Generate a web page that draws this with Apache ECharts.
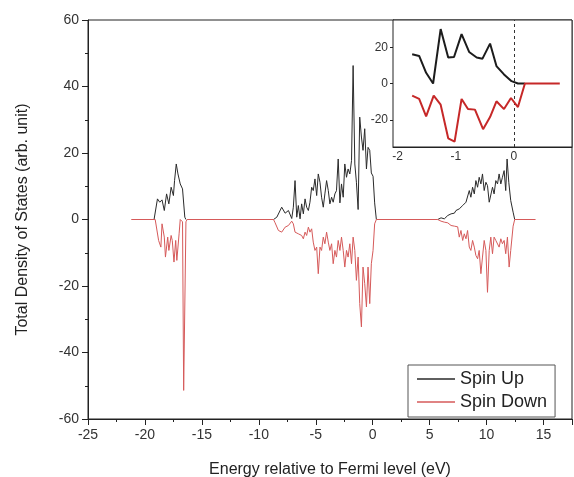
<!DOCTYPE html>
<html>
<head>
<meta charset="utf-8">
<script src="https://cdn.jsdelivr.net/npm/echarts@6/dist/echarts.min.js"></script>
<style>
  html, body { margin: 0; padding: 0; background: #fff; }
  #chart { width: 574px; height: 477px; }
</style>
</head>
<body>
<div id="chart"></div>
<script>
// Total density of states, spin-resolved (main panel).
// A null value breaks the spin-up trace between the bands.
const energyUp = [
  -19.2, -18.9, -18.7, -18.5, -18.3, -18.1, -17.9, -17.7, -17.5, -17.4, -17.25, -17.1, -16.9, -16.7, -16.6, -16.5, -16.4,
  -12.5,
  -8.71, -8.42, -7.99, -7.69, -7.40, -7.11, -6.97, -6.82, -6.67, -6.53, -6.38, -6.24, -6.09, -5.94, -5.80, -5.65, -5.51, -5.36,
  -5.22, -5.07, -4.92, -4.78, -4.63, -4.49, -4.34, -4.20, -4.05, -3.90, -3.76, -3.61, -3.47, -3.32, -3.18, -3.03, -2.88, -2.74,
  -2.59, -2.45, -2.30, -2.16, -2.01, -1.86, -1.72, -1.57, -1.43, -1.28, -1.14, -0.99, -0.85, -0.70, -0.55, -0.41, -0.26, -0.12,
  0.03, 0.17, 0.32,
  3.0,
  5.71, 6.00, 6.29, 6.59, 6.88, 7.02, 7.17, 7.31, 7.46, 7.60, 7.75, 7.90, 8.04, 8.19, 8.33, 8.48, 8.62, 8.77, 8.92, 9.06, 9.21,
  9.35, 9.50, 9.64, 9.79, 9.94, 10.08, 10.23, 10.37, 10.52, 10.66, 10.81, 10.96, 11.10, 11.25, 11.39, 11.54, 11.68, 11.80, 11.95,
  12.12, 12.33, 12.47
];
const dosUp = [
  0, 6.2, 5.2, 5.9, 2.7, 7.7, 4.7, 9.7, 7.2, 11.7, 16.7, 13.7, 10.7, 9.2, 8.7, 0.7, 0,
  null,
  0, 0.7, 3.7, 1.9, 2.7, 0.3, 3.7, 11.7, 0.7, 4.2, 0.2, 4.7, 1.7, 6.2, 3.7, 2.7, 5.2, 9.7,
  8.7, 12.2, 7.2, 13.7, 11.2, 6.7, 3.7, 7.7, 11.7, 8.7, 4.7, 6.7, 5.2, 7.7, 8.7, 18.2, 5.0, 10.7,
  6.7, 16.7, 12.7, 15.2, 13.7, 17.7, 46.3, 16.7, 11.2, 3.0, 30.8, 24.8, 20.8, 27.3, 15.2, 21.7, 20.8, 14.0,
  13.0, 5.0, 0,
  null,
  0, 0.5, 0.2, 1.2, 1.7, 2.2, 1.9, 2.7, 2.5, 3.2, 2.9, 4.2, 3.7, 5.2, 4.7, 8.7, 6.7, 9.7, 7.7, 11.7, 9.7,
  12.7, 10.7, 13.7, 8.7, 11.2, 10.2, 5.2, 5.7, 9.7, 7.7, 11.7, 10.7, 13.7, 10.7, 12.7, 14.7, 8.7, 18.2, 11.2,
  5.7, 2.2, 0
];

const energyDown = [
  -21.2, -19.1, -18.8, -18.6, -18.5, -18.3, -18.2, -18.0, -17.9, -17.7, -17.6, -17.45, -17.3, -17.2, -17.0, -16.9, -16.7, -16.6,
  -16.4, -16.3,
  -8.71, -8.57, -8.28, -7.99, -7.69, -7.40, -7.11, -6.97, -6.82, -6.67, -6.53, -6.38, -6.24, -6.09, -5.94, -5.80, -5.65, -5.51,
  -5.36, -5.22, -5.07, -4.92, -4.78, -4.63, -4.49, -4.34, -4.20, -4.05, -3.90, -3.76, -3.61, -3.47, -3.32, -3.18, -3.03, -2.88,
  -2.74, -2.59, -2.45, -2.30, -2.16, -2.01, -1.86, -1.72, -1.57, -1.43, -1.28, -1.14, -0.99, -0.85, -0.70, -0.55, -0.41, -0.26,
  -0.12, 0.03, 0.17, 0.32,
  5.71, 6.00, 6.29, 6.59, 6.88, 7.17, 7.31, 7.46, 7.60, 7.75, 7.90, 8.04, 8.19, 8.33, 8.48, 8.62, 8.77, 8.92, 9.06, 9.21, 9.35,
  9.50, 9.64, 9.79, 9.94, 10.08, 10.23, 10.37, 10.52, 10.66, 10.81, 10.96, 11.10, 11.25, 11.39, 11.54, 11.68, 11.83, 11.98,
  12.12, 12.33, 12.47, 14.3
];
const dosDown = [
  0, 0, -6.3, -8.3, -1.3, -5.3, -11.3, -5.3, -9.3, -4.8, -6.3, -12.8, -6.3, -12.3, -4.3, 0, -0.7, -51.4,
  -0.7, 0,
  0, -1.0, -3.3, -3.8, -2.3, -1.8, -0.5, -1.3, -3.8, -3.3, -4.3, -3.8, -4.8, -5.8, -3.8, -4.8, -2.3, -3.8,
  -2.8, -6.8, -9.3, -8.3, -16.3, -8.3, -9.3, -5.3, -7.3, -3.8, -6.8, -9.3, -7.3, -13.3, -9.3, -11.3, -6.3, -9.3,
  -5.3, -9.3, -14.3, -9.3, -11.3, -7.3, -13.3, -5.3, -9.3, -18.3, -11.3, -25.3, -32.3, -14.3, -19.3, -26.3, -14.3, -25.3,
  -13.3, -9.3, -1.3, 0,
  0, -0.5, -0.8, -1.0, -1.8, -2.0, -2.5, -2.2, -5.3, -3.3, -6.3, -4.3, -5.8, -3.3, -8.3, -9.3, -6.3, -8.3, -10.8, -11.8, -9.3,
  -16.3, -11.3, -6.3, -9.3, -21.9, -9.3, -5.3, -10.3, -5.3, -6.3, -6.3, -8.3, -5.8, -7.3, -6.3, -10.3, -5.3, -14.3,
  -9.3, -2.0, 0, 0
];

// Close-up around the Fermi level
const insetEnergyUp = [-1.75, -1.63, -1.51, -1.39, -1.26, -1.13, -1.03, -0.90, -0.77, -0.64, -0.54, -0.41, -0.30, -0.17, -0.04, 0.07, 0.19];
const insetUp = [16.1, 15.2, 5.9, 0, 30.0, 14.3, 14.6, 27.2, 17.4, 14.3, 13.7, 22.0, 9.6, 5.0, 1.3, 0, 0];
const insetEnergyDown = [-1.75, -1.63, -1.51, -1.38, -1.26, -1.13, -1.02, -0.90, -0.79, -0.67, -0.53, -0.41, -0.30, -0.17, -0.05, 0.07, 0.19, 0.79];
const insetDown = [-6.7, -8.5, -18.1, -6.7, -11.7, -30.2, -32.0, -8.5, -14.1, -14.4, -25.2, -18.5, -9.8, -14.1, -8.0, -13.0, 0, 0];

// Axis labels and ticks
const mainXLabels = [-25, -20, -15, -10, -5, 0, 5, 10, 15];
const mainYLabels = [-60, -40, -20, 0, 20, 40, 60];
const insetXLabels = [-2, -1, 0];
const insetYLabels = [-20, 0, 20];

const zip = (xs, ys) => xs.map((x, i) => [x, ys[i]]);

const FONT = "'Liberation Sans', Arial, sans-serif";
const AXIS_COLOR = '#222';
const LABEL_COLOR = '#333';
const UP_COLOR = '#2a2a2a';
const DOWN_COLOR = '#d65a5a';
const INSET_UP_COLOR = '#1c1c1c';
const INSET_DOWN_COLOR = '#c62828';

const chart = echarts.init(document.getElementById('chart'), null, { renderer: 'canvas' });

chart.setOption({
  animation: false,
  backgroundColor: '#fff',
  textStyle: { fontFamily: FONT },
  grid: [
    { left: 88, right: 2, top: 20, bottom: 58, containLabel: false, outerBoundsMode: 'none',
      show: true, borderColor: AXIS_COLOR, borderWidth: 1, backgroundColor: 'transparent' },
    { left: 393, right: 2, top: 20, bottom: 330, containLabel: false, outerBoundsMode: 'none',
      show: true, borderColor: AXIS_COLOR, borderWidth: 1, backgroundColor: '#fff', z: 3 }
  ],
  legend: {
    data: ['Spin Up', 'Spin Down'],
    orient: 'vertical',
    left: 408,
    top: 365,
    backgroundColor: '#fff',
    borderColor: '#555',
    borderWidth: 1,
    borderRadius: 0,
    padding: [4, 8, 5, 9],
    itemGap: 3,
    itemWidth: 38,
    itemHeight: 1.5,
    icon: 'rect',
    textStyle: { fontFamily: FONT, fontSize: 18, color: '#222', lineHeight: 20 }
  },
  xAxis: [
    {
      type: 'value', gridIndex: 0, min: -25, max: 17.5, interval: 5,
      name: 'Energy relative to Fermi level (eV)', nameLocation: 'middle', nameGap: 43,
      nameTextStyle: { fontFamily: FONT, fontSize: 16, color: '#222' },
      axisLine: { onZero: false, lineStyle: { color: AXIS_COLOR, width: 1 } },
      axisTick: { show: true, inside: false, length: 6, lineStyle: { color: AXIS_COLOR } },
      minorTick: { show: true, splitNumber: 2, length: 3, lineStyle: { color: AXIS_COLOR } },
      axisLabel: {
        fontFamily: FONT, fontSize: 14, color: LABEL_COLOR, margin: 9,
        formatter: v => (mainXLabels.indexOf(v) >= 0 ? String(v) : '')
      },
      splitLine: { show: false }
    },
    {
      type: 'value', gridIndex: 1, min: -2.08, max: 1.0,
      axisLine: { onZero: false, lineStyle: { color: AXIS_COLOR, width: 1 } },
      axisTick: { show: true, inside: true, length: 3, customValues: [-2, -1.5, -1, -0.5, 0, 0.5], lineStyle: { color: AXIS_COLOR } },
      axisLabel: { fontFamily: FONT, fontSize: 12, color: LABEL_COLOR, margin: 4, customValues: insetXLabels },
      splitLine: { show: false }
    }
  ],
  yAxis: [
    {
      type: 'value', gridIndex: 0, min: -60, max: 60, interval: 20,
      name: 'Total Density of States (arb. unit)', nameLocation: 'middle', nameGap: 57,
      nameTextStyle: { fontFamily: FONT, fontSize: 16, color: '#222' },
      axisLine: { onZero: false, lineStyle: { color: AXIS_COLOR, width: 1 } },
      axisTick: { show: true, inside: false, length: 6, lineStyle: { color: AXIS_COLOR } },
      minorTick: { show: true, splitNumber: 2, length: 3, lineStyle: { color: AXIS_COLOR } },
      axisLabel: {
        fontFamily: FONT, fontSize: 14, color: LABEL_COLOR, margin: 9,
        formatter: v => (mainYLabels.indexOf(v) >= 0 ? String(v) : '')
      },
      splitLine: { show: false }
    },
    {
      type: 'value', gridIndex: 1, min: -35, max: 35,
      axisLine: { onZero: false, lineStyle: { color: AXIS_COLOR, width: 1 } },
      axisTick: { show: true, inside: false, length: 3, customValues: insetYLabels, lineStyle: { color: AXIS_COLOR } },
      axisLabel: { fontFamily: FONT, fontSize: 12, color: LABEL_COLOR, margin: 5, customValues: insetYLabels },
      splitLine: { show: false }
    }
  ],
  series: [
    {
      name: 'Spin Up', type: 'line', xAxisIndex: 0, yAxisIndex: 0,
      data: zip(energyUp, dosUp), symbol: 'none', clip: true, connectNulls: false,
      lineStyle: { color: UP_COLOR, width: 1 }, itemStyle: { color: UP_COLOR }, z: 2
    },
    {
      name: 'Spin Down', type: 'line', xAxisIndex: 0, yAxisIndex: 0,
      data: zip(energyDown, dosDown), symbol: 'none', clip: true,
      lineStyle: { color: DOWN_COLOR, width: 1 }, itemStyle: { color: DOWN_COLOR }, z: 3
    },
    {
      name: 'Spin Up', type: 'line', xAxisIndex: 1, yAxisIndex: 1,
      data: zip(insetEnergyUp, insetUp), symbol: 'none', clip: true,
      lineStyle: { color: INSET_UP_COLOR, width: 2 }, itemStyle: { color: UP_COLOR }, z: 5,
      markLine: {
        silent: true, symbol: 'none', label: { show: false },
        lineStyle: { color: '#333', width: 1, type: [3, 3] },
        data: [{ xAxis: 0 }]
      }
    },
    {
      name: 'Spin Down', type: 'line', xAxisIndex: 1, yAxisIndex: 1,
      data: zip(insetEnergyDown, insetDown), symbol: 'none', clip: true,
      lineStyle: { color: INSET_DOWN_COLOR, width: 2 }, itemStyle: { color: DOWN_COLOR }, z: 6
    }
  ]
});
</script>
</body>
</html>
